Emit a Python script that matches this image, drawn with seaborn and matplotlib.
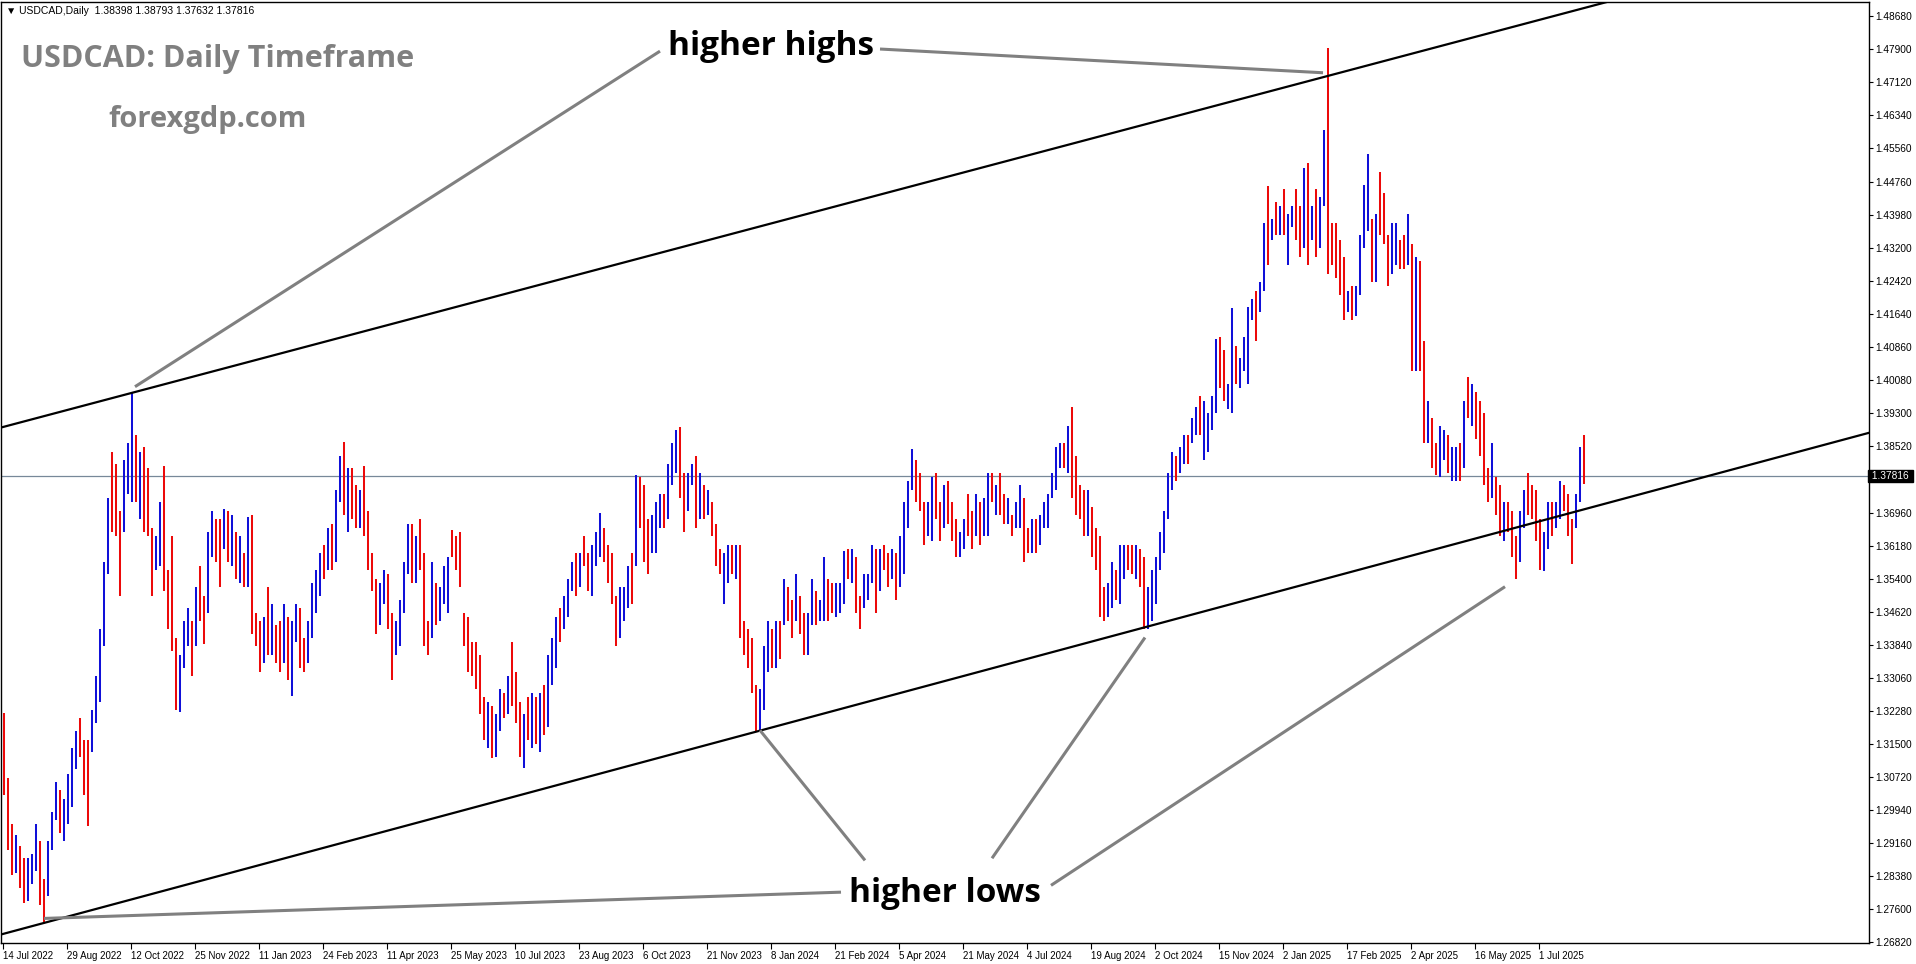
import numpy as np
import pandas as pd
import matplotlib
matplotlib.use("Agg")
import matplotlib.pyplot as plt
import seaborn as sns

# USDCAD daily, drawn as 2-day bars. Prices in pips above 1.0000
highs = [
    3224, 3070, 2960, 2935, 2910, 2880,
    2880, 2890, 2960, 2920, 2830, 2920, 2990, 3060, 3040, 3020, 3080, 3140,
    3180, 3210, 3160, 3160, 3230, 3310, 3420, 3580, 3730, 3838, 3810,
    3700, 3820, 3860, 3977, 3880, 3840, 3850, 3800, 3660, 3640,
    3720, 3807, 3560, 3640, 3400, 3360, 3440, 3470, 3440, 3520, 3570,
    3500, 3650, 3700, 3680, 3680, 3705, 3700, 3690, 3650, 3640, 3600,
    3685, 3690, 3460, 3440, 3450, 3520, 3480, 3430, 3440, 3480, 3450,
    3440, 3480, 3470, 3400, 3440, 3530, 3560, 3600, 3620, 3660,
    3670, 3750, 3830, 3862, 3800, 3800, 3760, 3750, 3805, 3700, 3600,
    3540, 3530, 3560, 3550, 3460, 3440, 3490, 3580, 3670, 3670,
    3640, 3680, 3600, 3440, 3580, 3530, 3520, 3570, 3590, 3655, 3640, 3650,
    3460, 3450, 3390, 3390, 3360, 3260, 3250, 3240, 3220, 3280, 3270,
    3310, 3390, 3320, 3250, 3220, 3260, 3270, 3260, 3270, 3290,
    3360, 3400, 3450, 3470, 3500, 3540, 3580, 3600, 3600, 3640, 3600, 3620,
    3650, 3694, 3660, 3620, 3600, 3500, 3520, 3520, 3570, 3600,
    3785, 3780, 3760, 3680, 3690, 3720, 3740, 3740, 3810, 3860, 3890,
    3899, 3790, 3790, 3810, 3830, 3790, 3760, 3750, 3720, 3670, 3610,
    3600, 3620, 3620, 3620, 3620, 3440, 3420, 3400, 3290, 3280,
    3380, 3440, 3420, 3440, 3440, 3540, 3520, 3490, 3550, 3500, 3460,
    3460, 3540, 3510, 3490, 3590, 3540, 3530, 3530, 3530, 3605, 3610,
    3610, 3590, 3500, 3550, 3550, 3620, 3610, 3610, 3620, 3600,
    3610, 3600, 3640, 3720, 3770, 3846, 3820, 3790, 3720, 3720, 3780,
    3790, 3720, 3760, 3770, 3720, 3680, 3650, 3680, 3740, 3700, 3740, 3720,
    3730, 3790, 3790, 3760, 3790, 3740, 3730, 3690, 3720, 3760,
    3730, 3660, 3680, 3680, 3690, 3720, 3740, 3790, 3850, 3860, 3860,
    3900, 3946, 3830, 3760, 3750, 3750, 3710, 3660, 3640, 3520, 3530,
    3580, 3560, 3620, 3620, 3620, 3620, 3620, 3610, 3590, 3520, 3560,
    3590, 3650, 3700, 3790, 3840, 3830, 3850, 3880, 3880, 3920, 3946,
    3970, 3960, 3930, 3970, 4105, 4110, 4080, 4000, 4178, 4090, 4060,
    4110, 4180, 4200, 4220, 4240, 4380, 4467, 4390, 4430, 4420,
    4460, 4400, 4420, 4460, 4420, 4510, 4520, 4420, 4460, 4440, 4600,
    4793, 4380, 4380, 4340, 4300, 4220, 4230, 4230, 4350, 4470,
    4542, 4390, 4400, 4500, 4450, 4350, 4380, 4380, 4340, 4350, 4400,
    4330, 4300, 4290, 4100, 3960, 3920, 3860, 3900, 3890, 3880, 3850,
    3850, 3860, 3960, 4015, 4000, 3980, 3960, 3930, 3800, 3860, 3780,
    3760, 3720, 3720, 3700, 3640, 3700, 3750, 3790, 3760, 3750,
    3680, 3650, 3720, 3720, 3720, 3770, 3760, 3740, 3680, 3740, 3850, 3879,
]
lows = [
    3030, 2900, 2840, 2845, 2810, 2775,
    2780, 2820, 2850, 2770, 2728, 2790, 2900, 2970, 2940, 2920, 2960, 3000,
    3090, 3120, 3030, 2955, 3130, 3200, 3250, 3380, 3550, 3650, 3640,
    3500, 3650, 3740, 3720, 3720, 3680, 3650, 3640, 3500, 3560,
    3570, 3510, 3420, 3370, 3230, 3226, 3330, 3380, 3310, 3380, 3440,
    3385, 3460, 3590, 3580, 3520, 3610, 3580, 3570, 3540, 3530, 3520,
    3520, 3410, 3380, 3320, 3340, 3360, 3360, 3340, 3320, 3340, 3300,
    3262, 3390, 3330, 3320, 3340, 3400, 3460, 3500, 3540, 3560,
    3560, 3580, 3720, 3690, 3650, 3680, 3660, 3660, 3640, 3560, 3510,
    3410, 3430, 3480, 3420, 3301, 3360, 3380, 3460, 3550, 3530,
    3530, 3560, 3380, 3360, 3400, 3430, 3440, 3480, 3460, 3590, 3560, 3520,
    3380, 3320, 3310, 3280, 3220, 3160, 3140, 3117, 3120, 3180, 3210,
    3220, 3240, 3200, 3120, 3093, 3160, 3140, 3150, 3130, 3170,
    3190, 3290, 3330, 3390, 3420, 3450, 3510, 3500, 3520, 3570, 3510, 3500,
    3570, 3590, 3580, 3530, 3480, 3380, 3400, 3440, 3470, 3480,
    3570, 3660, 3580, 3550, 3600, 3600, 3660, 3660, 3680, 3760, 3790,
    3730, 3650, 3700, 3760, 3660, 3680, 3680, 3690, 3640, 3570, 3550,
    3480, 3530, 3550, 3540, 3400, 3360, 3330, 3270, 3177, 3180,
    3230, 3320, 3330, 3330, 3350, 3430, 3440, 3400, 3440, 3410, 3360,
    3360, 3430, 3430, 3440, 3440, 3440, 3460, 3450, 3460, 3480, 3540,
    3530, 3460, 3420, 3470, 3490, 3530, 3460, 3510, 3560, 3520,
    3540, 3490, 3520, 3550, 3660, 3750, 3720, 3700, 3620, 3640, 3630,
    3680, 3630, 3660, 3670, 3630, 3590, 3590, 3610, 3640, 3610, 3640, 3620,
    3640, 3640, 3720, 3690, 3690, 3670, 3670, 3640, 3660, 3660,
    3580, 3600, 3600, 3600, 3620, 3660, 3660, 3730, 3750, 3800, 3800,
    3790, 3730, 3690, 3680, 3640, 3640, 3590, 3560, 3450, 3440, 3450,
    3470, 3490, 3480, 3540, 3560, 3550, 3540, 3520, 3420, 3420, 3440,
    3480, 3560, 3600, 3680, 3750, 3770, 3790, 3810, 3810, 3860, 3880,
    3880, 3820, 3840, 3890, 3930, 3990, 3960, 3940, 3930, 4000, 3990,
    4030, 4000, 4150, 4100, 4170, 4220, 4280, 4340, 4350, 4350,
    4350, 4280, 4370, 4340, 4300, 4320, 4280, 4340, 4300, 4320, 4420,
    4260, 4280, 4250, 4210, 4151, 4170, 4150, 4160, 4210, 4320,
    4360, 4240, 4240, 4350, 4330, 4230, 4260, 4280, 4270, 4270, 4280,
    4030, 4030, 4030, 3860, 3860, 3800, 3784, 3780, 3820, 3790, 3770,
    3770, 3770, 3800, 3920, 3900, 3870, 3830, 3760, 3720, 3730, 3690,
    3640, 3630, 3650, 3590, 3540, 3580, 3660, 3690, 3680, 3630,
    3560, 3557, 3610, 3640, 3660, 3680, 3700, 3640, 3575, 3660, 3720, 3763,
]
# u = close above open (blue), d = close below open (red), one string per month
dirs_by_month = [
    "dddudd", "uuudduuuduuu", "uddduuuuudd", "duuududddu", "udddduuudud",
    "duuddududud", "udddududdud", "uudduuuudu", "duududduddd", "duudduuuud",
    "uddduduuuddd", "dddddduduud", "udddududud", "uuuduuududdu", "uudddduuud",
    "uddduuuduuu", "dduudududdd", "uududddddu", "uudududdudd", "uuduudduuud",
    "udduuududd", "uduuuuddduu", "dduddduuddud", "uududduduu", "dduduuuuuud",
    "udddduddddu", "uduuddudduu", "uuuuuduuduu", "duuuudduudu", "uuuduududu",
    "duuddududuu", "ddddduduuu", "ududdduuddu", "duddudduudu", "udududdddud",
    "duddduuddd", "duuduuddduud",
]
dirs = "".join(dirs_by_month)

no_bar_days = ["2022-12-26", "2023-12-25", "2024-01-01", "2024-12-25", "2025-01-01"]

price_ticks = [1.48680, 1.47900, 1.47120, 1.46340, 1.45560, 1.44760, 1.43980,
               1.43200, 1.42420, 1.41640, 1.40860, 1.40080, 1.39300, 1.38520,
               1.36960, 1.36180, 1.35400, 1.34620, 1.33840, 1.33060, 1.32280,
               1.31500, 1.30720, 1.29940, 1.29160, 1.28380, 1.27600, 1.26820]

last_price = 1.37816
header = "USDCAD,Daily  1.38398 1.38793 1.37632 1.37816"

# trend lines: two points each (day index, price)
upper_line = [(-1.5, 1.3896), (548.5, 1.4584)]
lower_line = [(21.0, 1.2728), (570.0, 1.3424)]

# grey pointer lines (day index, price)
pointers = {
    "highs_left":  [(328.5, 1.4785), (66.0, 1.3993)],
    "highs_right": [(438.5, 1.4790), (660.0, 1.4734)],
    "lows_1": [(419.0, 1.2800), (20.5, 1.2738)],
    "lows_2": [(431.0, 1.2875), (378.5, 1.3182)],
    "lows_3": [(494.5, 1.2880), (571.0, 1.3401)],
    "lows_4": [(524.0, 1.2816), (751.0, 1.3521)],
}

# ---------------------------------------------------------------------------
days = pd.bdate_range("2022-07-14", "2025-08-01")
days = days[~days.isin(pd.to_datetime(no_bar_days))]

bars = pd.DataFrame({
    "high": 1 + np.array(highs) / 1e4,
    "low": 1 + np.array(lows) / 1e4,
    "dir": list(dirs),
})
bars["x"] = np.arange(len(bars)) * 2 + 0.5

sns.set_theme(style="white")
plt.rcParams["font.family"] = ["Liberation Sans", "DejaVu Sans"]

W, H = 1916, 964
fig = plt.figure(figsize=(W / 100, H / 100), dpi=100)
fig.patch.set_facecolor("white")
ax = fig.add_axes([1 / W, (H - 943) / H, (1869 - 1) / W, (943 - 2) / H])
ax.set_facecolor("white")

col = np.where(bars["dir"] == "u", "#1010d8", "#ec0a0a")
ax.vlines(bars["x"], bars["low"], bars["high"], colors=col, lw=1.45, zorder=2)

ax.axhline(last_price, color="#778899", lw=0.9, zorder=1)

for line in (upper_line, lower_line):
    ax.axline(line[0], line[1], color="black", lw=1.6, zorder=3)

for pts in pointers.values():
    xs, ys = zip(*pts)
    ax.plot(xs, ys, color="#808080", lw=2.2, solid_capstyle="butt", zorder=3)

ax.set_xlim(-1, 933)
ax.set_ylim(1.2680, 1.4901)

# axes ticks, MT4 style
tick_idx = list(range(0, len(days), 32))
ax.set_xticks(tick_idx)
ax.set_xticklabels([f"{days[i].day} {days[i]:%b %Y}" for i in tick_idx],
                   ha="left", fontsize=7)
ax.tick_params(axis="x", direction="out", length=4, width=0.8, pad=2,
               colors="black", bottom=True)
ax.yaxis.tick_right()
ax.set_yticks(price_ticks)
ax.set_yticklabels([f"{v:.5f}" for v in price_ticks])
ax.tick_params(axis="y", direction="out", length=3, width=0.8, pad=1.5,
               labelsize=7.3, colors="black", right=True)
for s in ax.spines.values():
    s.set_color("black")
    s.set_linewidth(1)
ax.grid(False)

ax.text(1.0, last_price, " 1.37816 ", transform=ax.get_yaxis_transform(),
        ha="left", va="center", fontsize=7.3, color="white", zorder=5,
        bbox=dict(boxstyle="square,pad=0.1", fc="black", ec="black"),
        clip_on=False)

# texts
fig.text(6 / W, 1 - 11 / H, "\u25bc " + header, fontsize=7.5, color="black",
         va="center", ha="left")
fig.text(21 / W, 1 - 59 / H, "USDCAD: Daily Timeframe", fontsize=22,
         fontweight="bold", color="#808080", family="Open Sans",
         va="center", ha="left")
fig.text(108 / W, 1 - 119 / H, "forexgdp.com", fontsize=21,
         fontweight="bold", color="#808080", family="Open Sans",
         va="center", ha="left")
ax.text(384, 1.4797, "higher highs", fontsize=24, fontweight="bold",
        color="black", family="Open Sans", ha="center", va="center", zorder=6)
ax.text(471, 1.2797, "higher lows", fontsize=24, fontweight="bold",
        color="black", family="Open Sans", ha="center", va="center", zorder=6)

fig.savefig("out.png", dpi=100, facecolor="white")
